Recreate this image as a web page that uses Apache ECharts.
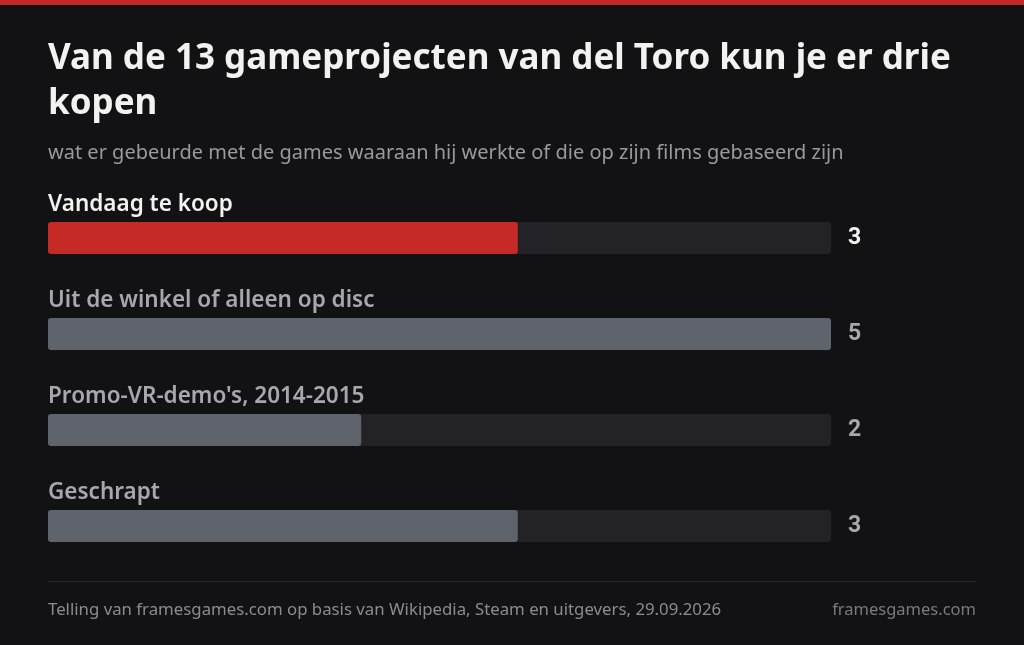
<!DOCTYPE html>
<html><head><meta charset="utf-8">
<script src="https://cdn.jsdelivr.net/npm/echarts@6/dist/echarts.min.js"></script>
<style>html,body{margin:0;padding:0;background:#121114;}#c{width:1024px;height:645px;}</style>
</head><body><div id="c"></div>
<script>
const categories = ["Vandaag te koop", "Uit de winkel of alleen op disc", "Promo-VR-demo's, 2014-2015", "Geschrapt"];
const values = [3, 5, 2, 3];
const titleText = "Van de 13 gameprojecten van del Toro kun je er drie\nkopen";
const subtitleText = "wat er gebeurde met de games waaraan hij werkte of die op zijn films gebaseerd zijn";
const sourceText = "Telling van framesgames.com op basis van Wikipedia, Steam en uitgevers, 29.09.2026";
const brandText = "framesgames.com";
const axisMax = 5;

const font = '"Noto Sans", "Open Sans", sans-serif';
const chart = echarts.init(document.getElementById('c'));
chart.setOption({
  backgroundColor: '#121114',
  animation: false,
  graphic: [
    {type: 'rect', left: 0, top: 0, shape: {width: 1024, height: 5}, style: {fill: '#c62828'}},
    {type: 'text', left: 48, top: 37, style: {text: titleText, font: 'bold 35px ' + font, fill: '#f2f2f0', lineHeight: 45}},
    {type: 'text', left: 48, top: 143, style: {text: subtitleText, font: '20px ' + font, fill: '#9a9a9a'}},
    {type: 'rect', left: 48, top: 581, shape: {width: 928, height: 1}, style: {fill: '#2a2a2e'}},
    {type: 'text', left: 48, top: 602, style: {text: sourceText, font: '16.8px ' + font, fill: '#8c8c8c'}},
    {type: 'text', right: 48, top: 602, style: {text: brandText, font: '16.5px ' + font, fill: '#7a7a7a', align: 'right'}}
  ],
  grid: {left: 48, right: 193, top: 190, bottom: 71, containLabel: false},
  xAxis: {type: 'value', min: 0, max: axisMax, show: false},
  yAxis: [
    {type: 'category', data: categories, inverse: true, show: false},
    {type: 'category', data: values, inverse: true, position: 'right',
     axisLine: {show: false}, axisTick: {show: false}, splitLine: {show: false},
     axisLabel: {margin: 17, fontFamily: 'Roboto, sans-serif', fontWeight: 'bold', fontSize: 23, padding: [0, 0, 4, 0],
       color: function (v, i) { return i === 0 ? '#f2f2f0' : '#a8a8a8'; }}}
  ],
  series: [{
    type: 'bar', barWidth: 32, yAxisIndex: 0,
    data: values.map(function (v, i) {
      return {value: v, itemStyle: {color: i === 0 ? '#c62a27' : '#5f636b'},
        label: {color: i === 0 ? '#f2f2f0' : '#a8a8a8'}};
    }),
    itemStyle: {borderRadius: 3},
    showBackground: true,
    backgroundStyle: {color: '#222227', borderRadius: 3},
    label: {show: true, position: [0, -29], formatter: '{b}', fontFamily: font, fontWeight: 600, fontSize: 22.5}
  }]
});
</script></body></html>
